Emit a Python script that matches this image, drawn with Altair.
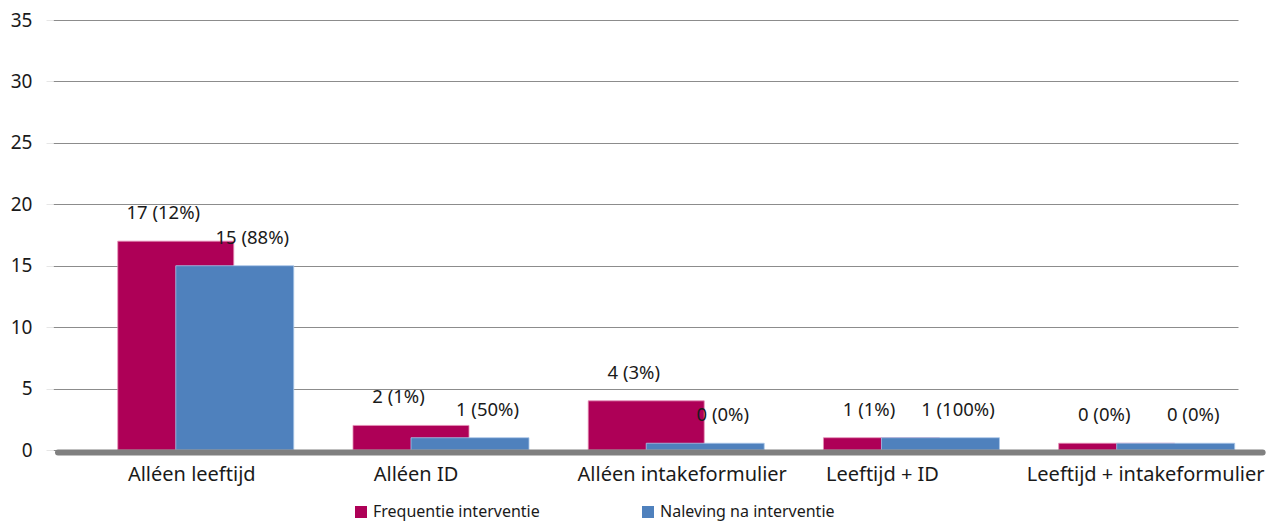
import json
import altair as alt
import pandas as pd

categories = ["Alléen leeftijd", "Alléen ID", "Alléen intakeformulier",
              "Leeftijd + ID", "Leeftijd + intakeformulier"]
series = ["Frequentie interventie", "Naleving na interventie"]
freq_values = [17, 2, 4, 1, 0]
freq_labels = ["17 (12%)", "2 (1%)", "4 (3%)", "1 (1%)", "0 (0%)"]
nal_values = [15, 1, 0, 1, 0]
nal_labels = ["15 (88%)", "1 (50%)", "0 (0%)", "1 (100%)", "0 (0%)"]
colors = ["#AE0057", "#4F81BD"]
y_ticks = [0, 5, 10, 15, 20, 25, 30, 35]

rows = []
for i, c in enumerate(categories):
    rows.append({"idx": i, "category": c, "series": series[0],
                 "value": freq_values[i], "label": freq_labels[i]})
    rows.append({"idx": i, "category": c, "series": series[1],
                 "value": nal_values[i], "label": nal_labels[i]})
df = pd.DataFrame(rows)

FONT = "Noto Sans"
TXT = "#1a1a1a"
XDOM = [-0.626, 4.369]

label_expr = json.dumps(categories, ensure_ascii=False) + "[datum.value]"

x_enc = alt.X(
    "idx:Q",
    scale=alt.Scale(domain=XDOM, nice=False, zero=False),
    axis=alt.Axis(values=list(range(len(categories))), labelExpr=label_expr,
                  title=None, grid=False, domain=False, ticks=False,
                  labelPadding=14, labelFontSize=20, labelColor=TXT,
                  labelFont=FONT,
                  labelOffset={"expr": "[-14, -25, 6, -29, -1][datum.value]"},
                  labelFlush=False, labelOverlap=False, labelLimit=0),
)
y_enc = alt.Y(
    "disp:Q",
    scale=alt.Scale(domain=[0, 35], nice=False),
    axis=alt.Axis(values=y_ticks, title=None, grid=True, gridColor="#8c8c8c",
                  gridWidth=1, domain=False, tickSize=7, tickColor="#e6e6e6",
                  labelPadding=14, labelFontSize=19, labelColor=TXT,
                  labelFont=FONT),
)
color_enc = alt.Color(
    "series:N",
    scale=alt.Scale(domain=series, range=colors),
    legend=alt.Legend(orient="none", legendX=300, legendY=484,
                      direction="horizontal", title=None,
                      symbolType="square", symbolSize=144,
                      symbolStrokeWidth=0, labelFontSize=16,
                      labelFont=FONT, labelColor=TXT, labelLimit=0,
                      columnPadding=100, labelOffset=4),
)

base = alt.Chart(df).transform_calculate(
    disp="max(datum.value, 0.55)"
)

freq_bar = base.transform_filter(alt.datum.series == series[0]).mark_bar(
    width=116, xOffset=-29.5, stroke="#e58fb6", strokeWidth=0.8
).encode(x=x_enc, y=y_enc, color=color_enc)

nal_bar = base.transform_filter(alt.datum.series == series[1]).mark_bar(
    width=118, xOffset=29.5, stroke="#a9c6e8", strokeWidth=0.8
).encode(x=x_enc, y=y_enc, color=color_enc)

freq_txt = base.transform_filter(alt.datum.series == series[0]).mark_text(
    dx=-42, dy=-28, baseline="middle", align="center", fontSize=18.5,
    font=FONT, color=TXT
).encode(x=x_enc, y=y_enc, text="label:N")

nal_txt = base.transform_filter(alt.datum.series == series[1]).mark_text(
    dx=47, dy=-28, baseline="middle", align="center", fontSize=18.5,
    font=FONT, color=TXT
).encode(x=x_enc, y=y_enc, text="label:N")

baseline = alt.Chart(
    pd.DataFrame({"idx": [XDOM[0]], "idx2": [4.495], "disp": [0]})
).mark_rule(
    strokeWidth=6, color="#808080", strokeCap="round", yOffset=2.5
).encode(x=x_enc, x2="idx2:Q", y=y_enc)

chart = alt.layer(freq_bar, nal_bar, baseline, freq_txt, nal_txt).properties(
    width=1185, height=430,
    autosize=alt.AutoSizeParams(type="none"),
    padding={"left": 45, "top": 12, "right": 30, "bottom": 78},
).configure(font=FONT).configure_view(stroke=None)

chart.save("out.html", embed_options={"renderer": "svg", "actions": False})
